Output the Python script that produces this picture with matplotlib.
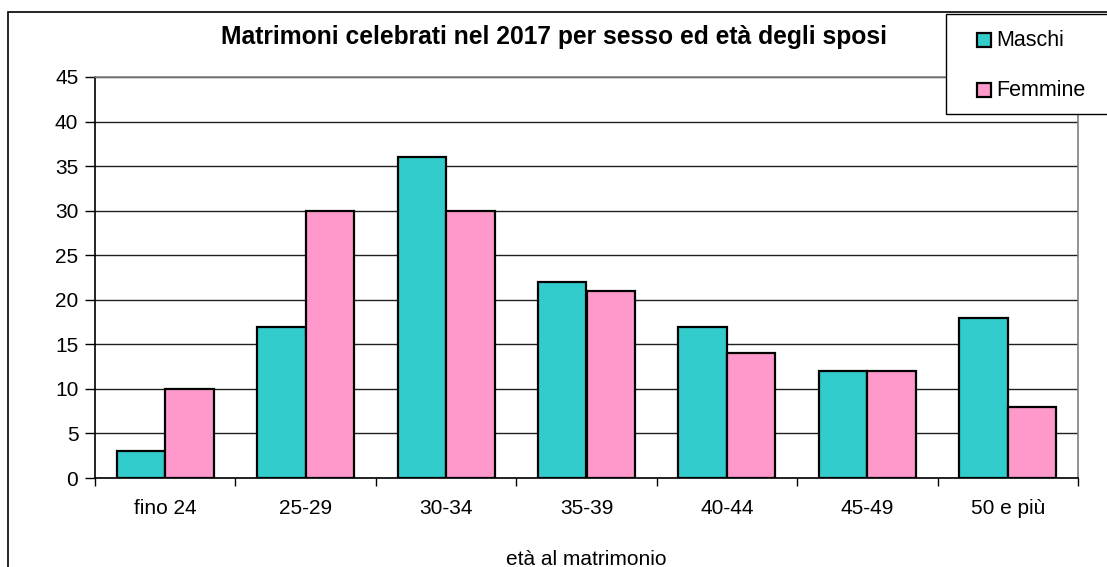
import matplotlib.pyplot as plt
import numpy as np
from matplotlib.patches import Rectangle

plt.rcParams['font.family'] = ['Liberation Sans', 'DejaVu Sans']

categories = ["fino 24", "25-29", "30-34", "35-39", "40-44", "45-49", "50 e più"]
maschi = [3, 17, 36, 22, 17, 12, 18]
femmine = [10, 30, 30, 21, 14, 12, 8]
series_names = ["Maschi", "Femmine"]
colors = ["#33CCCC", "#FF99CC"]

W, H = 1107, 567


def main():
    fig = plt.figure(figsize=(W / 100, H / 100), dpi=100)
    ax = fig.add_axes([95 / W, 1 - 478 / H, (1078 - 95) / W, (478 - 77) / H])

    x = np.arange(len(categories))
    bw = 0.345
    ax.bar(x - bw / 2, maschi, bw, color=colors[0], edgecolor="black",
           linewidth=1.6, zorder=3)
    ax.bar(x + bw / 2, femmine, bw, color=colors[1], edgecolor="black",
           linewidth=1.6, zorder=3)

    ax.set_xlim(-0.5, len(categories) - 0.5)
    ax.set_ylim(0, 45)
    ax.set_yticks(range(0, 46, 5))
    ax.yaxis.grid(True, color="#202020", linewidth=1.0, zorder=0)
    ax.set_axisbelow(True)

    ax.set_xticks(x)
    ax.set_xticklabels(categories, fontsize=15)
    ax.set_xticks(np.arange(-0.5, len(categories)), minor=True)
    ax.tick_params(axis="x", which="major", length=0, pad=15)
    ax.tick_params(axis="x", which="minor", length=6, width=1, color="black")
    ax.tick_params(axis="y", labelsize=15, length=7, width=1, pad=5)

    for s in ["left", "bottom"]:
        ax.spines[s].set_color("black")
        ax.spines[s].set_linewidth(1.2)
    for s in ["top", "right"]:
        ax.spines[s].set_color("#808080")
        ax.spines[s].set_linewidth(1.2)

    ax.set_xlabel("età al matrimonio", fontsize=15, labelpad=23)

    fig.text(554 / W, 1 - 37 / H, "Matrimoni celebrati nel 2017 per sesso ed età degli sposi",
             ha="center", va="center", fontsize=17.7, fontweight="bold")

    # outer chart frame
    fig.patches.append(Rectangle((8 / W, -0.1), 1.2, 1.1 - 12 / H,
                                 transform=fig.transFigure, fill=False,
                                 edgecolor="black", linewidth=1.2, zorder=0))

    # legend box
    fig.patches.append(Rectangle((946 / W, 1 - 114 / H), 0.2, 100 / H,
                                 transform=fig.transFigure, facecolor="white",
                                 edgecolor="black", linewidth=1.0, zorder=5))
    for i, name in enumerate(series_names):
        yc = 40 + i * 50
        fig.patches.append(Rectangle((977 / W, 1 - (yc + 7) / H), 14 / W, 14 / H,
                                     transform=fig.transFigure, facecolor=colors[i],
                                     edgecolor="black", linewidth=1.6, zorder=6))
        fig.text(996 / W, 1 - yc / H, name, ha="left", va="center",
                 fontsize=15.5, zorder=7)

    fig.savefig("out.png", dpi=100)


if __name__ == "__main__":
    main()
